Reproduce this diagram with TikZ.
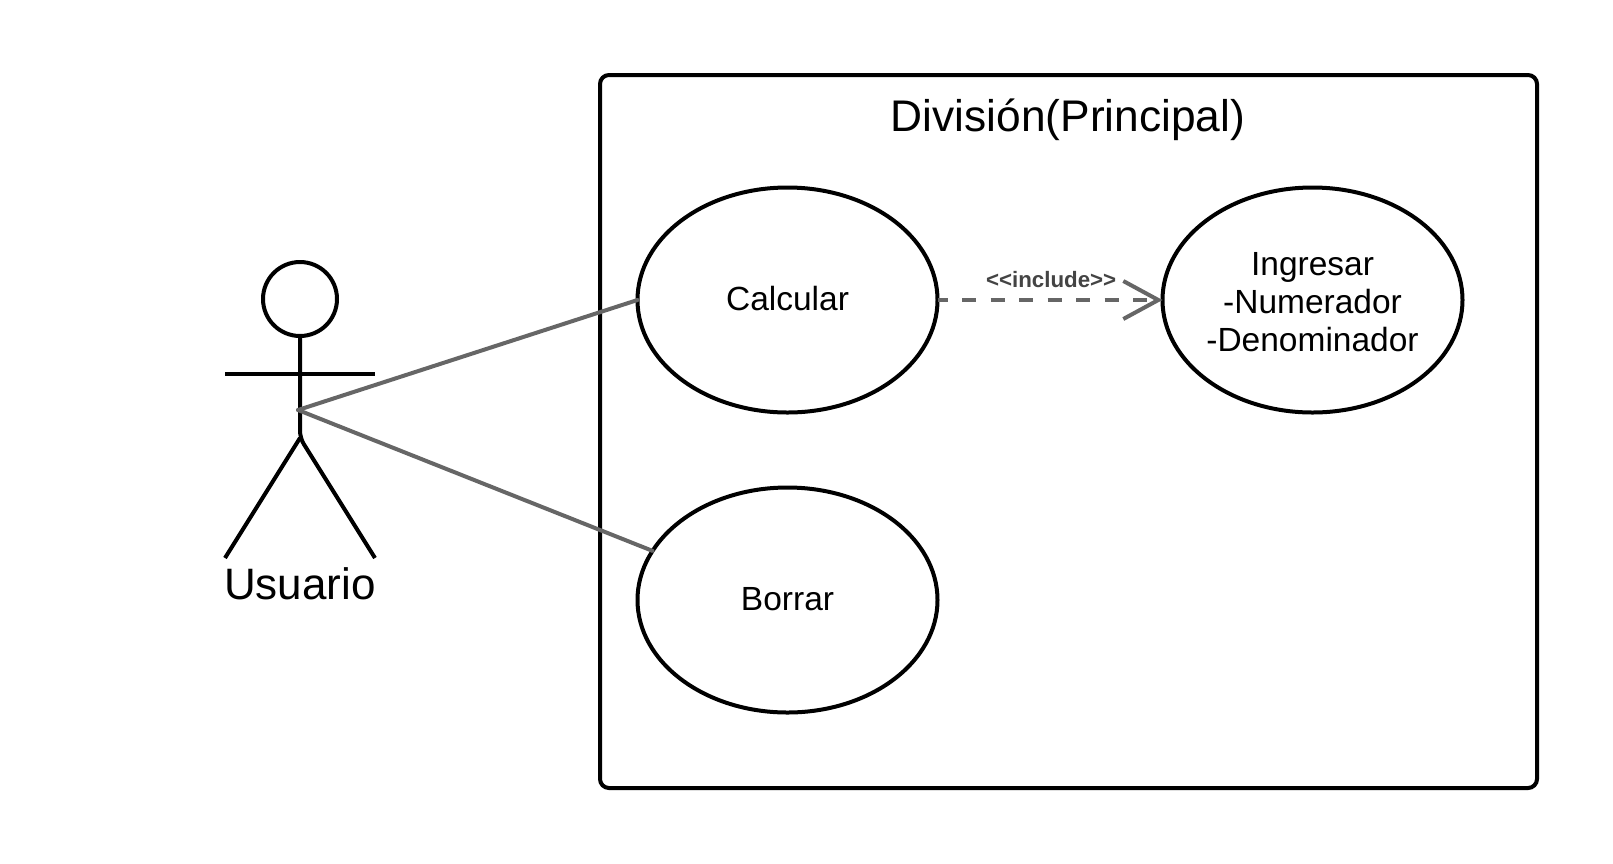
\documentclass[tikz,border=0pt]{standalone}
\usepackage{fontspec}
\setmainfont{Liberation Sans}
\usetikzlibrary{arrows.meta,positioning,shapes.geometric}
\definecolor{inkblack}{HTML}{000000}
\definecolor{linkgrey}{HTML}{666666}
\definecolor{labelgrey}{HTML}{444444}
\tikzset{
  usecase/.style = {ellipse, draw=inkblack, fill=white, line width=4pt, align=center,
                    minimum width=300pt, minimum height=225pt, inner sep=0pt, outer sep=0pt,
                    font=\fontsize{33.5}{38}\selectfont},
  sysframe/.style = {rounded corners=9pt, draw=inkblack, line width=4pt},
  limb/.style = {draw=inkblack, line width=4pt},
  assoc/.style = {draw=linkgrey, line width=4pt},
  includes/.style = {-{Straight Barb[length=35pt,width=38pt,line width=4pt]}, draw=linkgrey,
                    line width=4pt, dash pattern=on 14pt off 14.5pt, dash phase=4pt},
}
\begin{document}
\begin{tikzpicture}[x=1pt,y=-1pt]
    \useasboundingbox (0,0) rectangle (1613,863);
    \draw[sysframe] (600,75) rectangle (1537,788);
    \node[font=\fontsize{44.3}{50}\selectfont] (title) at (1068,120) {División(Principal)};
    \node[usecase,text depth=4pt] (calc) at (787.5,300) {Calcular};
    \node[usecase,inner xsep=-8pt,right=225pt of calc] (ingr) {\rule{0pt}{27pt}Ingresar\\-Numerador\\-Denominador};
    \node[usecase,text depth=2pt,below=75pt of calc] (borr) {Borrar};
    % stick figure
    \node[circle,limb,minimum size=74pt,inner sep=0pt,outer sep=0pt] (head) at (300,299) {};
    \coordinate (hip) at (300,438);
    \coordinate (armL) at (225,373.5);
    \coordinate (armR) at (375,373.5);
    \coordinate (footL) at (225,558);
    \coordinate (footR) at (375,558);
    \coordinate (grip) at (298,410);
    \draw[limb,rounded corners=7pt] (head) -- (hip) -- (footR);
    \draw[limb] (armL) -- (armR);
    \draw[limb] (footL) -- (hip);
    \node[font=\fontsize{44}{50}\selectfont] (user) at (300,584) {Usuario};
    \draw[assoc,line cap=round] (grip) -- (calc.west);
    \draw[assoc,line cap=round] (grip) -- (borr.160);
    \draw[includes] (calc) -- (ingr) node[pos=0.505,above=7pt,font=\fontsize{22.3}{25}\selectfont\bfseries,color=labelgrey]{<{}<include>{}>};
  \end{tikzpicture}
\end{document}
